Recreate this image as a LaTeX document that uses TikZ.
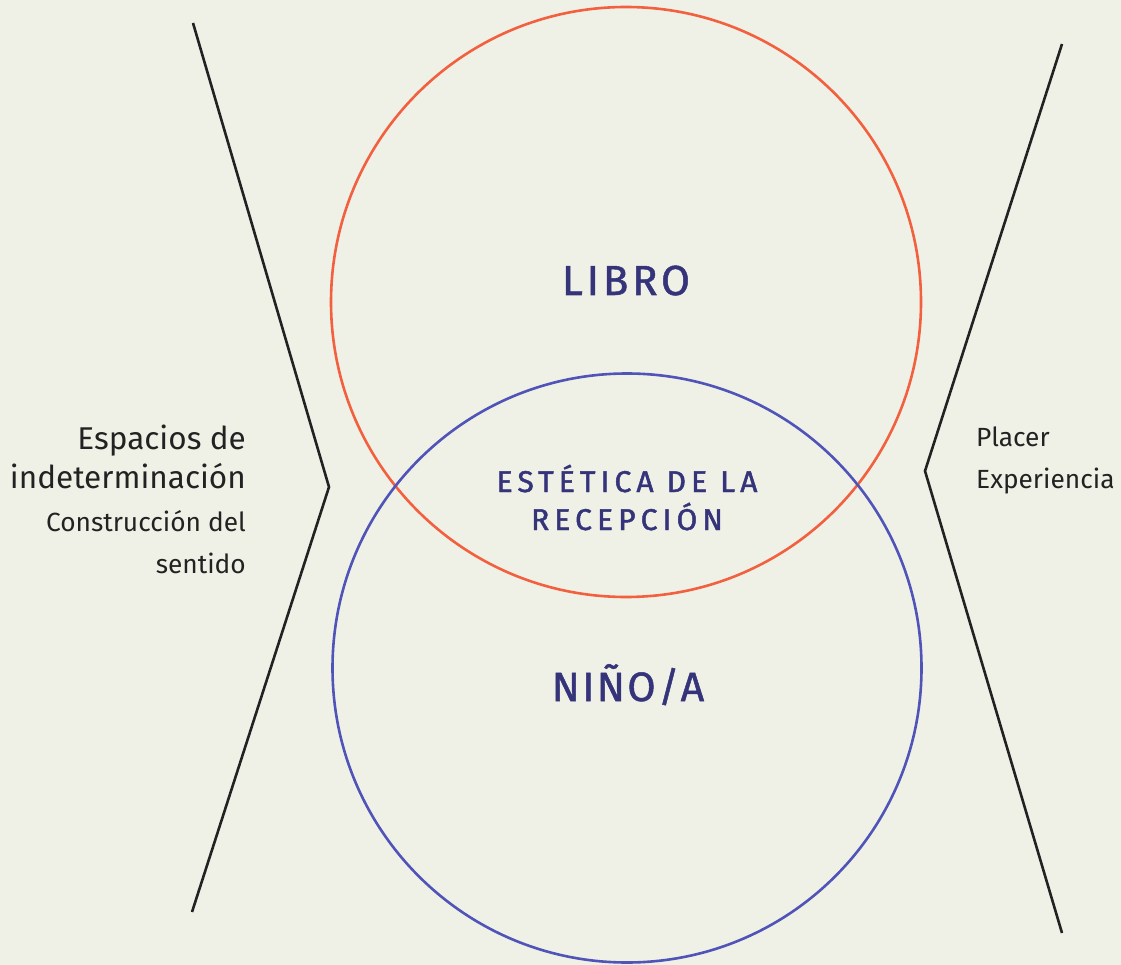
\documentclass[tikz,border=0pt]{standalone}
\usepackage{fontspec}
\setmainfont{Fira Sans}
\newfontfamily\librofont[LetterSpace=9,FakeBold=1.2]{Fira Sans}
\newfontfamily\ninofont[LetterSpace=6,FakeBold=1.2]{Fira Sans}
\newfontfamily\esteticafont[LetterSpace=17,FakeBold=1.6]{Fira Sans}
\definecolor{fondo}{HTML}{F0F1E6}
\definecolor{rojo}{HTML}{F2603F}
\definecolor{azul}{HTML}{5054B8}
\definecolor{tinta}{HTML}{35347A}
\definecolor{negro}{HTML}{222222}
\tikzset{
  zigzag/.style={draw=negro, line width=2.6pt},
  circulo/.style={circle, line width=2.6pt, inner sep=0},
  titulo/.style={text=tinta, inner sep=0, anchor=base},
  lado/.style={text=negro, inner sep=0},
}
\begin{document}
\begin{tikzpicture}[x=1pt,y=-1pt]
        \fill[fondo] (0,0) rectangle (1121,965);

        % circles
        \node[circulo, draw=rojo, minimum size=590pt] (libro) at (626,302) {};
        \node[circulo, draw=azul, minimum size=589pt] (nino) at (627,668) {};

        % side lines
        \draw[zigzag] (193,23) -- (329,487) -- (192,912);
        \draw[zigzag] (1062,44) -- (925,471) -- (1062,933);

        % labels inside
        \node[titulo, font=\librofont\fontsize{42}{42}\selectfont] (tlibro) at (626,295) {LIBRO};
        \node[titulo, font=\esteticafont\fontsize{30}{30}\selectfont] (test1) at (627,492) {ESTÉTICA DE LA};
        \node[titulo, font=\esteticafont\fontsize{30}{30}\selectfont] (test2) at (627,530) {RECEPCIÓN};
        \node[titulo, font=\ninofont\fontsize{41}{41}\selectfont] (tnino) at (628,701) {NIÑO/A};

        % left text
        \node[lado, anchor=base east, font=\fontsize{31.5}{31.5}\selectfont] (esp1) at (246,449) {Espacios de};
        \node[lado, anchor=base east, font=\fontsize{31.5}{31.5}\selectfont] (esp2) at (246,488) {indeterminación};
        \node[lado, anchor=base east, font=\fontsize{26.3}{26.3}\selectfont] (cons1) at (246,531) {Construcción del};
        \node[lado, anchor=base east, font=\fontsize{26.3}{26.3}\selectfont] (cons2) at (246,573) {sentido};

        % right text
        \node[lado, anchor=base west, font=\fontsize{26.3}{26.3}\selectfont] (placer) at (976,446) {Placer};
        \node[lado, anchor=base west, font=\fontsize{26.3}{26.3}\selectfont] (exper) at (976,488) {Experiencia};
\end{tikzpicture}
\end{document}
